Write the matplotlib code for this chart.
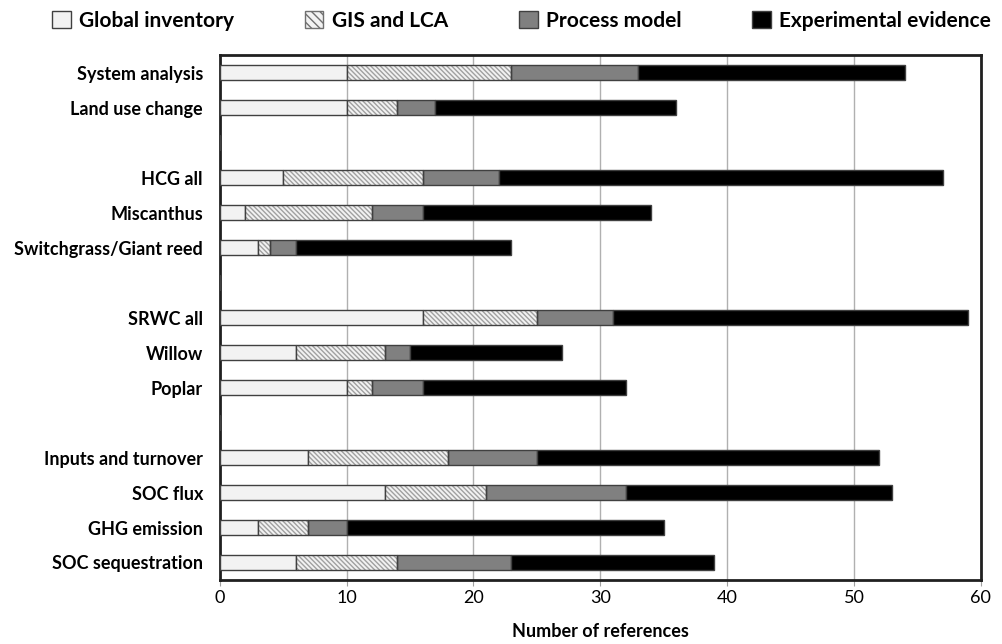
import matplotlib
matplotlib.use('Agg')
import matplotlib.pyplot as plt
from matplotlib.patches import Patch

plt.rcParams['font.family'] = ['Lato', 'DejaVu Sans']

# rows top to bottom, '' = empty spacer row
categories = ['System analysis', 'Land use change', '',
              'HCG all', 'Miscanthus', 'Switchgrass/Giant reed', '',
              'SRWC all', 'Willow', 'Poplar', '',
              'Inputs and turnover', 'SOC flux', 'GHG emission', 'SOC sequestration']
global_inventory = [10, 10, 0, 5, 2, 3, 0, 16, 6, 10, 0, 7, 13, 3, 6]
gis_lca = [13, 4, 0, 11, 10, 1, 0, 9, 7, 2, 0, 11, 8, 4, 8]
process_model = [10, 3, 0, 6, 4, 2, 0, 6, 2, 4, 0, 7, 11, 3, 9]
experimental = [21, 19, 0, 35, 18, 17, 0, 28, 12, 16, 0, 27, 21, 25, 16]
series_names = ['Global inventory', 'GIS and LCA', 'Process model', 'Experimental evidence']


def main():
    fig = plt.figure(figsize=(10.03, 6.44), dpi=100)
    ax = fig.add_axes([0.219, 0.0994, 0.759, 0.815])

    y = list(range(len(categories)))
    h = 0.43
    edge = '#404040'
    hatch = '\\' * 7
    left = [0] * len(y)

    ax.barh(y, global_inventory, h, left=left, color='#f2f2f2', edgecolor=edge, linewidth=1, zorder=3)
    left = [a + b for a, b in zip(left, global_inventory)]
    # hatched segment: hatch drawn in light gray, outline added separately
    ax.barh(y, gis_lca, h, left=left, color='#f2f2f2', edgecolor='#a0a0a0', hatch=hatch, linewidth=0, zorder=3)
    ax.barh(y, gis_lca, h, left=left, color='none', edgecolor=edge, linewidth=1, zorder=4)
    left = [a + b for a, b in zip(left, gis_lca)]
    ax.barh(y, process_model, h, left=left, color='#808080', edgecolor=edge, linewidth=1, zorder=3)
    left = [a + b for a, b in zip(left, process_model)]
    ax.barh(y, experimental, h, left=left, color='black', edgecolor=edge, linewidth=1, zorder=3)

    ax.set_yticks(y)
    ax.set_yticklabels(categories, fontsize=13, fontweight='bold')
    ax.set_ylim(len(y) - 0.5, -0.5)
    ax.set_xlim(0, 60)
    ax.set_xticks(range(0, 61, 10))
    ax.tick_params(axis='x', labelsize=13, length=4, color='#a0a0a0')
    ax.tick_params(axis='y', length=0, pad=12)
    ax.grid(axis='x', color='#b0b0b0', linewidth=1, zorder=0)
    ax.set_xlabel('Number of references', fontsize=13, fontweight='bold', labelpad=12)
    for s in ax.spines.values():
        s.set_linewidth(2)
        s.set_color('#202020')

    handles = [Patch(facecolor='#f2f2f2', edgecolor=edge),
               Patch(facecolor='#f2f2f2', edgecolor='#707070', hatch='\\\\\\\\'),
               Patch(facecolor='#808080', edgecolor=edge),
               Patch(facecolor='black', edgecolor=edge)]
    fig.legend(handles, series_names, loc='upper center', bbox_to_anchor=(0.52, 1.012), ncol=4,
               frameon=False, handlelength=0.9, handleheight=0.9, handletextpad=0.4,
               columnspacing=3.4, prop={'size': 15, 'weight': 'bold'})

    fig.savefig('out.png', dpi=100)


if __name__ == '__main__':
    main()
